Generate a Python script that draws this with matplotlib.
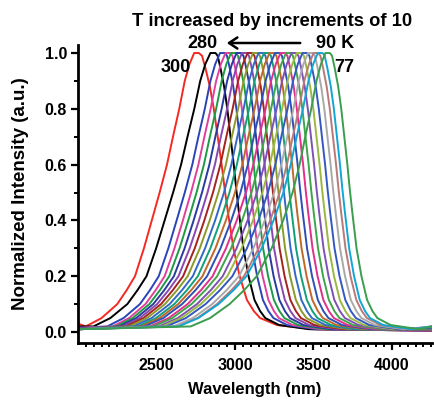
import numpy as np
import matplotlib
matplotlib.use("Agg")
import matplotlib.pyplot as plt

plt.rcParams['font.family'] = ['Liberation Sans', 'DejaVu Sans']
plt.rcParams['font.weight'] = 'bold'

# ---- data ----
temps = [300, 280, 270, 260, 250, 240, 230, 220, 210, 200, 190,
         180, 170, 160, 150, 140, 130, 120, 110, 100, 90, 77]
peaks_nm = [2760, 2865, 2925, 2960, 2995, 3030, 3065, 3100, 3135, 3170, 3205,
            3240, 3275, 3310, 3345, 3380, 3415, 3450, 3485, 3520, 3548, 3595]
left_scale = [1.0, 1.08, 1.02, 1.0, 1.0, 1.0, 1.0, 1.0, 1.0, 1.0, 1.0,
              1.0, 1.0, 1.0, 1.0, 1.0, 1.0, 1.0, 0.98, 0.98, 1.0, 0.95]
tail_scale = [1.0, 1.0, 1.02, 1.04, 1.06, 1.08, 1.1, 1.12, 1.14, 1.15, 1.16,
              1.18, 1.2, 1.2, 1.22, 1.22, 1.24, 1.25, 1.26, 1.27, 1.28, 1.3]
right_scale = [1.0, 0.82, 0.8, 0.8, 0.8, 0.8, 0.8, 0.8, 0.8, 0.8, 0.8,
               0.8, 0.8, 0.8, 0.8, 0.8, 0.8, 0.8, 0.8, 0.8, 0.78, 0.78]
start_level = [0.03, 0.02, 0.015, 0.015, 0.012, 0.012, 0.012, 0.01, 0.01, 0.01, 0.01,
               0.01, 0.01, 0.01, 0.01, 0.01, 0.01, 0.01, 0.01, 0.01, 0.01, 0.01]
end_level = [0.005, 0.005, 0.005, 0.005, 0.008, 0.008, 0.008, 0.01, 0.01, 0.01, 0.01,
             0.01, 0.012, 0.012, 0.012, 0.015, 0.015, 0.015, 0.02, 0.02, 0.02, 0.02]
colors = ['#f42a22', '#000000', '#2a44b8', '#e0409c', '#1f9a44', '#2a3a9e',
          '#8a47b0', '#a3231f', '#8c9a2c', '#3568c6', '#10a07a', '#c0682a',
          '#2e50b4', '#e0308c', '#3ea548', '#7e52b2', '#9ab842', '#3458c0',
          '#a9a9a9', '#b87a78', '#12a6d4', '#3a9e4e']

# profile shape (offset from peak in nm, normalized intensity)
rise_offsets = [-710, -610, -510, -450, -397, -340, -290, -240, -193, -155, -115, -80, -50, -20, 10]
rise_levels = [0.02, 0.05, 0.10, 0.15, 0.20, 0.30, 0.40, 0.50, 0.60, 0.70, 0.80, 0.90, 0.96, 1.0, 1.0]
tail_weight = [1.0, 1.0, 1.0, 0.85, 0.7, 0.4, 0.15, 0, 0, 0, 0, 0, 0, 0, 0]
fall_offsets = [30, 50, 80, 105, 130, 155, 175, 195, 230, 270, 316, 360, 400, 508, 740]
fall_levels = [0.99, 0.95, 0.88, 0.80, 0.70, 0.60, 0.51, 0.43, 0.30, 0.20, 0.115, 0.075, 0.05, 0.025, 0.01]

x_min, x_max = 2000, 4255

fig = plt.figure(figsize=(4.35, 4.03), dpi=100)
ax = fig.add_axes([78/435, 60/403, (432-78)/435, (343-45)/403])

for i, T in enumerate(temps):
    p = peaks_nm[i]
    xr = [p + o * left_scale[i] * (1 + w * (tail_scale[i] - 1))
          for o, w in zip(rise_offsets, tail_weight)]
    xf = [p + o * right_scale[i] for o in fall_offsets]
    xs = [x_min] + xr + xf + [x_max]
    ys = [start_level[i]] + rise_levels + fall_levels + [end_level[i]]
    ax.plot(xs, ys, color=colors[i], lw=1.4, clip_on=True)

ax.set_xlim(x_min, x_max)
ax.set_ylim(-0.0394, 1.0287)
ax.set_xticks([2500, 3000, 3500, 4000])
ax.set_xticks(np.arange(2050, 4255, 50), minor=True)
ax.set_yticks([0.0, 0.2, 0.4, 0.6, 0.8, 1.0])
ax.set_yticks(np.arange(0.1, 1.0, 0.2), minor=True)
ax.set_yticklabels(['0.0', '0.2', '0.4', '0.6', '0.8', '1.0'])
for s in ['top', 'right']:
    ax.spines[s].set_visible(False)
for s in ['left', 'bottom']:
    ax.spines[s].set_linewidth(2)
ax.tick_params(which='major', direction='out', length=5, width=1.6, labelsize=11.5)
ax.tick_params(axis='x', which='major', pad=6)
ax.tick_params(axis='y', which='major', pad=3)
ax.tick_params(which='minor', direction='out', length=3, width=1.4)
for lab in ax.get_xticklabels() + ax.get_yticklabels():
    lab.set_fontweight('bold')

ax.set_xlabel('Wavelength (nm)', fontsize=12, fontweight='bold', labelpad=6)
ax.set_ylabel('Normalized Intensity (a.u.)', fontsize=13.5, fontweight='bold', labelpad=11)

def ft(x, y, s, **kw):
    fig.text(x/435, 1 - y/403, s, ha='center', va='center', fontweight='bold', **kw)

ft(272, 22, 'T increased by increments of 10', fontsize=13.2)
ft(202, 43, '280', fontsize=13)
ft(335, 43, '90 K', fontsize=13)
ft(176, 68, '300', fontsize=13)
ft(344, 68, '77', fontsize=13)
fig.add_artist(matplotlib.patches.FancyArrowPatch(
    (303/435, 1 - 43/403), (224/435, 1 - 43/403), transform=fig.transFigure,
    arrowstyle='->,head_length=6,head_width=4', lw=1.8, color='black',
    mutation_scale=1))

fig.savefig('out.png', dpi=100)
